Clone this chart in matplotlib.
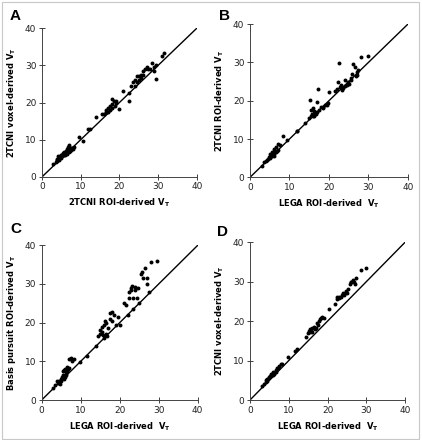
import matplotlib
matplotlib.use("Agg")
import matplotlib.pyplot as plt
from matplotlib.patches import Rectangle

plt.rcParams['font.family'] = ['DejaVu Sans']
plt.rcParams['mathtext.fontset'] = 'dejavusans'

# Panel A: 2TCNI ROI-derived (x) vs 2TCNI voxel-derived (y)
a_x = [2.8,3.5,4,4.2,4.5,4.8,5,5.2,5.5,5.8,6,6.2,6.5,6.8,7,7.2,7.5,6,5,4.5,6.5,7,7.5,8,8.3,5.5,6.2,4,3.8,5.8,6.8,7.8,
       9.5,10.5,
       12,12.5,14,15.5,16,16.5,17,17.5,18,18.2,18.5,19,18,17,19,20,16.5,17.5,18.8,
       21,22.5,22.5,23,23.5,24,24,24.5,25,25,25.5,26,26.5,26,27,27.5,24.5,25.5,28.5,29,29.5,28,29.5,31,31.5,29]
a_y = [3.4,4,4.5,5.5,5,5.8,6,5.5,6.5,6.8,6,7,7.5,8,8.5,7,7.8,6.5,5,4.5,6.2,6.8,7.2,7.5,8,5.8,6.5,4.2,4.8,5.8,7.5,7.8,
       10.8,9.6,
       12.8,13,16,16.8,17,18,18.5,18,19.5,21,20.5,20.5,18.5,17.5,19.8,18.2,17.5,19,19,
       23,22.5,20.5,24.5,25.5,26,24.5,27,26,27,26.5,28.5,29,27.5,29.5,29,25.5,27.5,30.5,28.5,30,29,26.3,32.5,33.3,29.5]

# Panel B: LEGA ROI-derived (x) vs 2TCNI ROI-derived (y)
b_x = [3,3.5,4,4.2,4.5,5,5,5.2,5.5,5.8,6,6.2,6.5,6,5.5,6.8,7,7.5,8.3,6.5,4.8,6.2,7,
       9.5,11.8,12,14,15,15.5,15.3,15.5,15.8,16,16,16.5,16.8,17,17.2,17.5,17,18,18.5,19,19.5,19.8,20,18.5,16.3,16.2,
       21.5,22,22.3,22.5,22.8,23,23.2,23.5,24,24.5,24.8,25,25.5,25.8,26,26.5,26.8,27,27.2,27.5,28.2,29.8,24,25.5]
b_y = [3,4,4.2,4.5,4.8,5,6,5.5,6.5,6,7,7.5,6.5,5.5,5.5,7,8.8,8.5,10.8,8,5.2,6.2,7.2,
       9.7,12,12.2,14.3,15.5,16,20.2,17.5,16.5,18,16,17,16.5,19.8,23,17.5,17,18.3,18.5,19,18.8,19.5,22.2,18,16,17.2,
       22.5,23,25,29.8,23.5,24,22.8,23.3,25.5,24,25,24.5,25.5,27,29.5,28.8,26.5,26.8,27.5,28,31.5,31.7,23.8,26]

# Panel C: LEGA ROI-derived (x) vs Basis pursuit ROI-derived (y)
c_x = [3,3.5,4,4.2,4.5,4.8,5,5.2,5.5,5.5,5.8,6,6.2,6.5,6.5,7,7.5,7.8,8.3,6,5,5.8,6.2,4.5,7,6.8,
       9.8,11.5,14,14.5,15,15,15.5,15.5,16,16,16.2,16.5,16.8,17,17.5,17.5,18,18,18.5,19,19.5,20,15.8,16.5,
       21,21.5,22,22.5,22.5,22.8,23,23.5,23.2,24,24.5,24.8,25.5,25.8,26,26.5,27,27,27.5,28,29.5,23.5,24,25]
c_y = [3,4,4.8,4.5,5,4.2,5.5,6,6.5,7.5,7.8,8,7,8.5,7.5,10.5,10.8,10.2,10.5,6,5,5.5,6.5,4.5,8.2,8,
       9.8,11.5,14,16.5,17,18,19,17.5,19.5,16,20.3,20,16.5,18.5,21,22.5,22.8,20.5,22,19.5,21.5,19.5,16.8,17,
       25,24.5,22,26.5,28,28.5,29,26.5,29.5,29.2,26.5,29,32.5,33,31.5,34.2,30,31.5,27.8,35.8,36,23.5,28.5,25]

# Panel D: LEGA ROI-derived (x) vs 2TCNI voxel-derived (y)
d_x = [3,3.5,4,4.2,4.5,4.8,5,5.2,5.5,5.8,6,6.2,6.5,6.8,7,7.2,7.5,8,8.3,5.5,6,4.5,6.8,
       9.8,11.5,12,14.3,15,15.2,15.5,15.8,16,16,16.5,16.8,17,17.5,17.8,18,18.2,18.5,19,20.3,21.8,15.5,17.2,
       22.3,22.5,22.8,23,23.5,23.8,24,24.5,24.8,25,25.3,25.8,26,26.5,26.8,27,27.2,26,28.5,30,24.2]
d_y = [3.5,4,4.5,5,5.2,5.8,5.5,6.2,6.5,6.8,7,6.5,7.2,7.5,8,8.2,8.5,9,9.2,6,6.3,4.8,7.2,
       10.8,12.5,13,16,17,17.5,18,17.8,18.2,17.2,18.5,18,18.2,19,20,20.5,20.8,21,20.8,23,24.2,17.2,19.5,
       25.5,26,26.2,25.8,26,26.5,27,27,27.5,27.2,28,29.5,29.8,30.5,30,29.5,30.8,30,32.8,33.5,26.5]

ticks = [0, 10, 20, 30, 40]
VT = r'V$_\mathbf{T}$'

panels = [
    ("A", a_x, a_y, "2TCNI ROI-derived " + VT, "2TCNI voxel-derived " + VT,
     [0.0995, 0.598, 0.367, 0.338], (15, 16)),
    ("B", b_x, b_y, "LEGA ROI-derived  " + VT, "2TCNI ROI-derived " + VT,
     [0.5924, 0.597, 0.374, 0.348], (224, 16)),
    ("C", c_x, c_y, "LEGA ROI-derived  " + VT, "Basis pursuit ROI-derived " + VT,
     [0.0988, 0.0909, 0.3697, 0.3516], (16, 229)),
    ("D", d_x, d_y, "LEGA ROI-derived  " + VT, "2TCNI voxel-derived " + VT,
     [0.5924, 0.0909, 0.368, 0.359], (223, 232)),
]

W, H = 422, 440
fig = plt.figure(figsize=(W / 100, H / 100), dpi=100)
fig.patches.append(Rectangle((1.5 / W, 1.5 / H), (W - 5) / W, (H - 4) / H,
                             transform=fig.transFigure, fill=False,
                             edgecolor='#c8c8c8', linewidth=0.8))

for letter, xs, ys, xl, yl, pos, lpos in panels:
    ax = fig.add_axes(pos)
    ax.plot([0, 40], [0, 40], color='black', linewidth=1.0, zorder=2)
    ax.scatter(xs, ys, s=8, color='black', linewidths=0, zorder=3)
    ax.set_xlim(0, 40)
    ax.set_ylim(0, 40)
    ax.set_xticks(ticks)
    ax.set_yticks(ticks)
    for s in ['top', 'right']:
        ax.spines[s].set_visible(False)
    for s in ['left', 'bottom']:
        ax.spines[s].set_color('#444444')
        ax.spines[s].set_linewidth(0.7)
    ax.tick_params(direction='inout', length=4, width=0.6, labelsize=6.5,
                   colors='#222222', pad=2)
    ax.set_xlabel(xl, fontsize=6, fontweight='bold', labelpad=4)
    ax.set_ylabel(yl, fontsize=6, fontweight='bold', labelpad=5)
    fig.text(lpos[0] / W, 1 - lpos[1] / H, letter, fontsize=11, fontweight='bold',
             family='Liberation Sans', ha='center', va='center')

fig.savefig("out.png", dpi=100)
